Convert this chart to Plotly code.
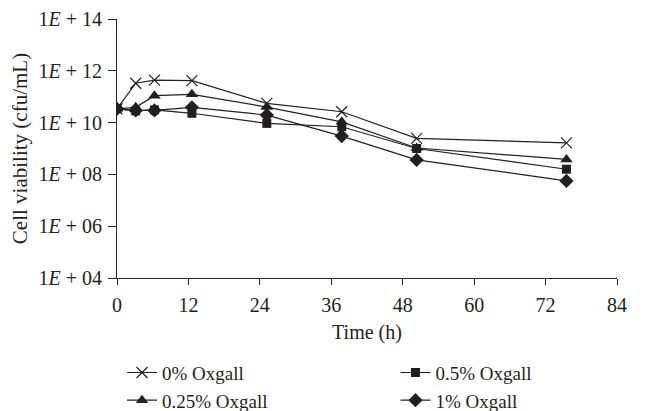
import plotly.graph_objects as go

time_h = [0, 3, 6, 12, 24, 36, 48, 72]
log_0 = [10.53, 11.52, 11.64, 11.62, 10.74, 10.42, 9.39, 9.22]
log_025 = [10.53, 10.59, 11.04, 11.09, 10.60, 10.03, 9.02, 8.58]
log_05 = [10.53, 10.45, 10.49, 10.36, 9.97, 9.84, 9.00, 8.20]
log_1 = [10.53, 10.47, 10.47, 10.59, 10.29, 9.48, 8.56, 7.75]

series_names = ["0% Oxgall", "0.25% Oxgall", "0.5% Oxgall", "1% Oxgall"]
y_tick_exp = [4, 6, 8, 10, 12, 14]
x_ticks = [0, 12, 24, 36, 48, 60, 72, 84]

INK = "#231f20"
FONT = "Liberation Serif"
TICK_SIZE = 20
TEXT_SIZE = 20
LEGEND_SIZE = 19

# the page body has an 8px margin; the figure is sized to fill the rest of the window
PAGE_OFFSET = 8
# in the reference, the plotted points sit on a slightly wider time scale than the tick labels
DATA_X_RANGE = [0, 80.1]

def vals(logs):
    return [10 ** v for v in logs]

fig = go.Figure()
# empty trace so the visible, labelled time axis is drawn
fig.add_trace(go.Scatter(x=[], y=[], xaxis="x", yaxis="y", showlegend=False, hoverinfo="skip"))

specs = [
    ("1% Oxgall", log_1, "diamond", 11, "legend2", 2),
    ("0.25% Oxgall", log_025, "triangle-up", 11, "legend", 2),
    ("0.5% Oxgall", log_05, "square", 9, "legend2", 1),
    ("0% Oxgall", log_0, "x-thin", 11, "legend", 1),
]
for name, logs, sym, size, leg, rank in specs:
    marker = dict(symbol=sym, size=size, color=INK)
    if sym == "x-thin":
        marker["line"] = dict(width=1.2, color=INK)
    fig.add_trace(go.Scatter(
        x=time_h, y=vals(logs), name=name, mode="lines+markers",
        line=dict(color=INK, width=1.2), marker=marker,
        legend=leg, legendrank=rank, xaxis="x2", yaxis="y",
    ))

legend_common = dict(
    orientation="v", yanchor="top", xanchor="left",
    font=dict(family=FONT, size=LEGEND_SIZE, color=INK),
    bgcolor="rgba(0,0,0,0)", itemwidth=30, tracegroupgap=0,
)

fig.update_layout(
    width=646 - PAGE_OFFSET, height=411 - PAGE_OFFSET,
    margin=dict(l=117 - PAGE_OFFSET, r=29, t=19 - PAGE_OFFSET, b=133, autoexpand=False),
    paper_bgcolor="white", plot_bgcolor="white",
    font=dict(family=FONT, size=TEXT_SIZE, color=INK),
    showlegend=True,
    legend=dict(x=0.010, y=-0.292, **legend_common),
    legend2=dict(x=0.557, y=-0.292, **legend_common),
    xaxis=dict(
        range=[0, 84], tickvals=x_ticks, ticktext=[str(t) for t in x_ticks],
        ticks="outside", ticklen=6, tickcolor=INK, tickwidth=1,
        ticklabelstandoff=3, anchor="y",
        showline=True, linecolor=INK, linewidth=1, showgrid=False, zeroline=False,
        title=dict(text="Time (h)", font=dict(family=FONT, size=TEXT_SIZE, color=INK), standoff=9),
        tickfont=dict(family=FONT, size=TICK_SIZE, color=INK),
    ),
    xaxis2=dict(
        range=DATA_X_RANGE, overlaying="x", anchor="y", side="bottom",
        visible=False, showgrid=False, zeroline=False,
    ),
    yaxis=dict(
        type="log", range=[4, 14],
        tickvals=[10 ** e for e in y_tick_exp],
        ticktext=["1<i>E</i> + %02d" % e for e in y_tick_exp],
        ticks="outside", ticklen=8, tickcolor=INK, tickwidth=1,
        ticklabelstandoff=2,
        showline=True, linecolor=INK, linewidth=1, showgrid=False, zeroline=False,
        title=dict(text="Cell viability (cfu/mL)", font=dict(family=FONT, size=TEXT_SIZE + 1, color=INK), standoff=6),
        tickfont=dict(family=FONT, size=TICK_SIZE, color=INK),
    ),
)

fig.write_html("out.html")
